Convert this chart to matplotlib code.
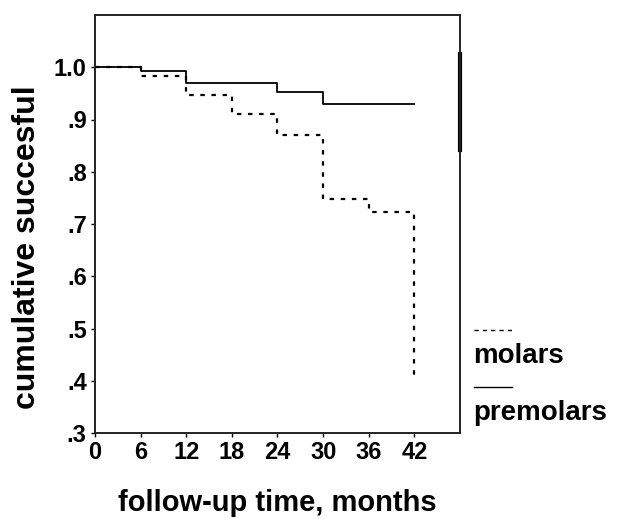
import matplotlib
matplotlib.use("Agg")
import matplotlib.pyplot as plt

plt.rcParams['font.family'] = ['Liberation Sans', 'DejaVu Sans']
plt.rcParams['font.weight'] = 'bold'

# Kaplan-Meier style step data (month, cumulative success)
premolar_months = [0, 6, 12, 24, 30, 42]
premolar_surv = [1.0, 0.992, 0.969, 0.953, 0.929, 0.929]

molar_months = [0, 6, 12, 18, 24, 30, 36, 42]
molar_surv = [1.0, 0.983, 0.947, 0.911, 0.871, 0.747, 0.723, 0.41]

x_ticks = [0, 6, 12, 18, 24, 30, 36, 42]
y_ticks = [0.3, 0.4, 0.5, 0.6, 0.7, 0.8, 0.9, 1.0]
y_tick_labels = ['.3', '.4', '.5', '.6', '.7', '.8', '.9', '1.0']

fig = plt.figure(figsize=(6.19, 5.19), dpi=100)
ax = fig.add_axes([95 / 619, 1 - 433 / 519, (460 - 95) / 619, (433 - 15) / 519])

ax.step(premolar_months, premolar_surv, where='post', color='black', lw=1.3)
ax.step(molar_months, molar_surv, where='post', color='black', lw=1.6,
        linestyle=(0, (2, 3)))

ax.set_xlim(0, 48)
ax.set_ylim(0.3, 1.1)
ax.set_xticks(x_ticks)
ax.set_yticks(y_ticks)
ax.set_yticklabels(y_tick_labels)
ax.tick_params(axis='both', labelsize=17, length=3, width=1, pad=3)
for lab in ax.get_xticklabels() + ax.get_yticklabels():
    lab.set_fontweight('bold')
for s in ax.spines.values():
    s.set_linewidth(1.4)
    s.set_color('#222222')

# thick mark on the right border, as in the scanned original
ax.plot([48, 48], [0.842, 1.025], color='black', lw=3, clip_on=False)

ax.set_xlabel('follow-up time, months', fontsize=21, fontweight='bold', labelpad=18)
ax.set_ylabel('cumulative succesful', fontsize=23, fontweight='bold')
ax.yaxis.set_label_coords(-0.145, 0.445)

# legend drawn outside on the right
fig.lines.append(plt.Line2D([474 / 619, 512 / 619], [1 - 330 / 519] * 2,
                            transform=fig.transFigure, color='black', lw=1,
                            linestyle=(0, (3, 3))))
fig.text(473 / 619, 1 - 356 / 519, 'molars', fontsize=20, fontweight='bold', va='center')
fig.lines.append(plt.Line2D([474 / 619, 512 / 619], [1 - 387 / 519] * 2,
                            transform=fig.transFigure, color='black', lw=1))
fig.text(473 / 619, 1 - 413 / 519, 'premolars', fontsize=20, fontweight='bold', va='center')

fig.savefig('out.png', dpi=100)
